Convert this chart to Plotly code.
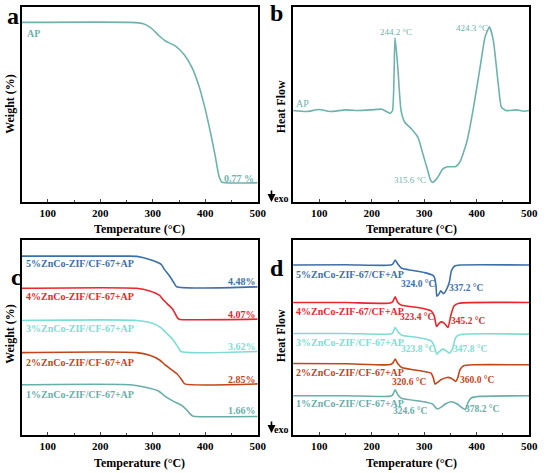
import plotly.graph_objects as go

# ---- panel a: TGA of AP ----
tga_ap_temp = [50, 257, 282, 297, 313, 325, 344, 360, 375, 388, 400, 410, 419, 426, 431, 438, 500]
tga_ap_weight = [100, 100, 99.2, 96.5, 91.4, 88.3, 85.2, 80, 71.9, 60.6, 46.2, 31.8, 17.4, 5.1, 1.4, 0.77, 0.77]

# ---- panel b: DSC of AP ----
dsc_ap_temp = [50, 75, 100, 120, 150, 175, 200, 219, 235, 239.5, 244.2, 249.5, 255.7, 263, 275.6,
               288, 297.4, 306.8, 312, 315.6, 320, 325.5, 335, 344, 360, 369, 381.6, 394, 406.5,
               416, 424.3, 431.5, 441, 447, 456, 475, 490, 500]
dsc_ap_flow = [0, -0.03, 0.03, -0.03, 0.02, 0, 0.02, 0.04, -0.08, 0, 2.18, 1.3, 0, -0.35, -0.55,
               -0.8, -1.3, -1.8, -2.08, -2.15, -2.1, -2.0, -1.75, -1.68, -1.67, -1.5, -0.9, 0.1, 1.3,
               2.2, 2.5, 2.1, 0.8, 0.1, 0, 0.02, -0.02, 0]

# ---- panel c: TGA of composites (offset curves) ----
tga_names = ["5%ZnCo-ZIF/CF-67+AP", "4%ZnCo-ZIF/CF-67+AP", "3%ZnCo-ZIF/CF-67+AP",
             "2%ZnCo-ZIF/CF-67+AP", "1%ZnCo-ZIF/CF-67+AP"]
tga_residue = ["4.48%", "4.07%", "3.62%", "2.85%", "1.66%"]
tga_offset = [400, 300, 200, 100, 0]
tga5_temp = [50, 250, 270, 297, 316, 322, 332, 341, 345.5, 500]
tga5_weight = [100, 100, 99, 87.6, 74, 58.6, 37.9, 15.1, 4.48, 4.48]
tga4_temp = [50, 269, 294, 313, 319, 328.6, 338, 347, 350.4, 500]
tga4_weight = [100, 100, 91.7, 78, 66, 50, 35, 8, 4.07, 4.07]
tga3_temp = [50, 269, 300.6, 316, 325.5, 338, 349, 353.5, 500]
tga3_weight = [100, 100, 90.7, 77, 61.7, 41, 15, 3.62, 3.62]
tga2_temp = [50, 269, 294, 313, 322.4, 335, 347, 356.6, 361, 500]
tga2_weight = [100, 100, 91.7, 77.2, 63.8, 48.1, 32.6, 11.9, 2.85, 2.85]
tga1_temp = [50, 257, 288, 310, 322.4, 338, 356.6, 366, 375.4, 380, 500]
tga1_weight = [100, 100, 91.7, 81.4, 65.8, 50, 34.8, 19, 3.5, 1.66, 1.66]

# ---- panel d: DSC of composites (offset curves) ----
dsc_names = ["5%ZnCo-ZIF-67/CF+AP", "4%ZnCo-ZIF-67/CF+AP", "3%ZnCo-ZIF/CF-67+AP",
             "2%ZnCo-ZIF/CF-67+AP", "1%ZnCo-ZIF/CF-67+AP"]
dsc_offset = [51.1, 39.8, 30.3, 21.3, 11.8]
dsc_peak_low = ["324.0 °C", "323.4 °C", "323.8 °C", "320.6 °C", "324.6 °C"]
dsc_peak_high = ["337.2 °C", "345.2 °C", "347.8 °C", "360.0 °C", "378.2 °C"]
dsc5_temp = [50, 150, 230, 239.5, 244.5, 249.5, 257, 275.6, 300.6, 316, 319, 322.4, 324, 328.6,
             331, 334, 337.2, 342, 347.6, 351.6, 357.8, 369, 500]
dsc5_flow = [0, 0.05, -0.1, 0.2, 1.5, 0.3, -1.0, -1.6, -2.3, -3.1, -3.6, -6.3, -9.4, -8.6,
             -7.8, -8.2, -8.6, -7.5, -5.3, -1.8, -0.3, 0, 0]
dsc4_temp = [50, 150, 232, 239.5, 244.5, 249.5, 257, 288, 313, 319, 323.4, 327, 331.7, 338,
             345.2, 350.4, 356.6, 366, 500]
dsc4_flow = [0, 0, -0.2, 0.2, 1.7, 0, -0.8, -1.5, -2.5, -4.0, -7.2, -6.5, -5.8, -6.2,
             -7.5, -4.0, -1.0, -0.2, 0]
dsc3_temp = [50, 150, 232, 239.5, 244.5, 251, 257, 288, 313, 319, 323.8, 328, 335, 341,
             347.8, 353.5, 360, 369, 500]
dsc3_flow = [0.2, 0.2, 0, 0.3, 2.0, 0.5, -0.3, -1.0, -2.0, -3.5, -6.0, -5.3, -4.5, -4.9,
             -5.7, -4.5, -1.0, -0.1, 0]
dsc2_temp = [50, 150, 232, 239.5, 244.5, 250, 257, 300, 313, 317, 320.6, 325, 331.7, 344,
             352, 360, 364, 368, 375, 394, 500]
dsc2_flow = [0.2, 0.1, -0.2, 0.2, 1.5, 0, -1.0, -2.2, -2.7, -4.0, -6.0, -5.5, -4.7, -4.0,
             -4.3, -5.2, -4.0, -1.7, -0.5, -0.2, -0.2]
dsc1_temp = [50, 150, 232, 239.5, 244.5, 250, 257, 300, 316, 321, 324.6, 331.7, 340, 350.4,
             363, 372, 378.2, 383.5, 389, 405, 500]
dsc1_flow = [0, 0, -0.2, 0.2, 1.8, 0.2, -0.8, -1.8, -2.5, -3.5, -4.0, -3.5, -2.5, -1.8,
             -2.5, -3.6, -4.1, -2.0, -0.7, -0.2, 0]

ap_color = "#6db3ad"
series_colors = ["#3d6fa8", "#e8262c", "#7fdcd4", "#c1461b", "#6aaeaa"]

W, H = 550, 473
SERIF = "Liberation Serif"


def px(x):
    return x / W


def py(y):
    return 1 - y / H


fig = go.Figure()

fig.add_trace(go.Scatter(x=tga_ap_temp, y=tga_ap_weight, mode="lines", hoverinfo="skip",
                         line=dict(color=ap_color, width=1.6, shape="spline", smoothing=0.6),
                         xaxis="x", yaxis="y"))
fig.add_trace(go.Scatter(x=dsc_ap_temp, y=dsc_ap_flow, mode="lines", hoverinfo="skip",
                         line=dict(color=ap_color, width=1.6, shape="spline", smoothing=0.5),
                         xaxis="x2", yaxis="y2"))

tga_t = [tga5_temp, tga4_temp, tga3_temp, tga2_temp, tga1_temp]
tga_w = [tga5_weight, tga4_weight, tga3_weight, tga2_weight, tga1_weight]
for t, w, off, c in zip(tga_t, tga_w, tga_offset, series_colors):
    fig.add_trace(go.Scatter(x=t, y=[v + off for v in w], mode="lines", hoverinfo="skip",
                             line=dict(color=c, width=1.6, shape="spline", smoothing=0.6),
                             xaxis="x3", yaxis="y3"))

dsc_t = [dsc5_temp, dsc4_temp, dsc3_temp, dsc2_temp, dsc1_temp]
dsc_f = [dsc5_flow, dsc4_flow, dsc3_flow, dsc2_flow, dsc1_flow]
for t, f, off, c in zip(dsc_t, dsc_f, dsc_offset, series_colors):
    fig.add_trace(go.Scatter(x=t, y=[v + off for v in f], mode="lines", hoverinfo="skip",
                             line=dict(color=c, width=1.6, shape="spline", smoothing=0.5),
                             xaxis="x4", yaxis="y4"))

xdom_l = [px(22), px(262)]
xdom_r = [px(298), px(538)]
ydom_t = [py(202), py(7)]
ydom_b = [py(435), py(240)]

xax = dict(range=[50, 500], tickvals=[100, 200, 300, 400, 500], ticks="inside", ticklen=3,
           tickwidth=1.2, minor=dict(dtick=50, tick0=50, ticks="inside", ticklen=2, tickwidth=1),
           showline=True, linecolor="black", linewidth=1.5, mirror=True, showgrid=False,
           zeroline=False, tickfont=dict(family=SERIF, size=11, color="black", weight="bold"))
yax = dict(showline=True, linecolor="black", linewidth=1.5, mirror=True, showgrid=False,
           zeroline=False, showticklabels=False, ticks="")

fig.update_layout(
    width=W, height=H, margin=dict(l=0, r=0, t=0, b=0),
    paper_bgcolor="white", plot_bgcolor="white", showlegend=False,
    font=dict(family=SERIF, color="black"),
    xaxis=dict(xax, domain=xdom_l, anchor="y"),
    yaxis=dict(yax, domain=ydom_t, anchor="x", range=[-11.1, 109.5]),
    xaxis2=dict(xax, domain=xdom_r, anchor="y2"),
    yaxis2=dict(yax, domain=ydom_t, anchor="x2", range=[-2.73, 3.09]),
    xaxis3=dict(xax, domain=xdom_l, anchor="y3"),
    yaxis3=dict(yax, domain=ydom_b, anchor="x3", range=[-56, 550]),
    xaxis4=dict(xax, domain=xdom_r, anchor="y4"),
    yaxis4=dict(yax, domain=ydom_b, anchor="x4", range=[0, 58.6]),
)

ann = []


def label(x, y, text, color="black", size=10, xanchor="center", bold=True, angle=0):
    ann.append(dict(x=px(x), y=py(y), xref="paper", yref="paper", text=text, showarrow=False,
                    xanchor=xanchor, yanchor="middle", textangle=angle,
                    font=dict(family=SERIF, size=size, color=color,
                              weight="bold" if bold else "normal")))


def exo_arrow(y_bottom):
    ann.append(dict(x=px(276), y=py(y_bottom), xref="paper", yref="paper", text="",
                    showarrow=True, ax=0, ay=-13, axref="pixel", ayref="pixel",
                    arrowhead=2, arrowsize=1, arrowwidth=1.6, arrowcolor="black"))
    label(286, y_bottom - 4, "exo", size=10)


# panel letters
label(13, 16, "a", size=24)
label(281, 13, "b", size=24)
label(17, 277, "c", size=24)
label(282, 268, "d", size=24)

# axis titles
for cx in [142, 418]:
    label(cx, 229, "Temperature (°C)", size=12)
    label(cx, 463, "Temperature (°C)", size=12)
label(10, 104, "Weight (%)", size=12, angle=-90)
label(10, 334, "Weight (%)", size=12, angle=-90)
label(286, 107, "Heat Flow", size=12, angle=-90)
label(286, 336, "Heat Flow", size=12, angle=-90)
exo_arrow(202)
exo_arrow(433)

# panel a / b texts
label(25, 33, "AP", ap_color, xanchor="left")
label(260, 178, "0.77 %", ap_color, xanchor="right")
label(299, 103, "AP", ap_color, xanchor="left", bold=False)
label(403, 32, "244.2 °C", ap_color, size=9, bold=False)
label(480, 28, "424.3 °C", ap_color, size=9, bold=False)
label(417, 180, "315.6 °C", ap_color, size=9, bold=False)

# panel c texts
for name, res, c, yl, yr in zip(tga_names, tga_residue, series_colors,
                                [263, 296, 328, 362, 394], [281, 314, 346, 379, 410]):
    label(24, yl, name, c, xanchor="left")
    label(262, yr, res, c, xanchor="right")

# panel d texts
d_name_y = [274, 311, 342, 372, 403]
d_low_xy = [(425, 284), (424, 317), (425, 349), (416, 382), (417, 411)]
d_high_xy = [(474, 288), (476, 321), (478, 349), (485, 380), (491, 409)]
for name, lo, hi, c, yn, lxy, hxy in zip(dsc_names, dsc_peak_low, dsc_peak_high, series_colors,
                                         d_name_y, d_low_xy, d_high_xy):
    label(299, yn, name, c, xanchor="left")
    label(lxy[0], lxy[1], lo, c, size=9.5)
    label(hxy[0], hxy[1], hi, c, size=9.5)

fig.update_layout(annotations=ann, hovermode=False)
fig.write_html("out.html", config={"displayModeBar": False},
               post_script="document.body.style.margin='0';")
